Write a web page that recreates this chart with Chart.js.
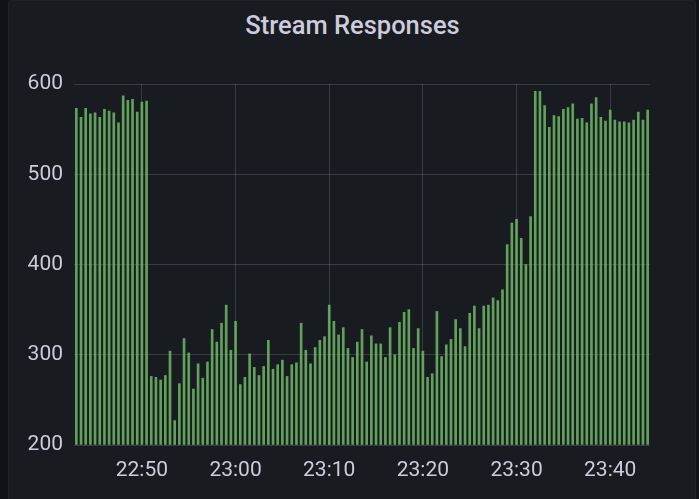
<!DOCTYPE html>
<html>
<head>
<meta charset="utf-8">
<script src="https://cdn.jsdelivr.net/npm/chart.js@4.4.1/dist/chart.umd.min.js"></script>
<style>
  html, body { margin: 0; padding: 0; width: 699px; height: 499px; background: #111217; overflow: hidden; }
  #panel { position: absolute; left: 8px; top: 0; width: 688px; height: 506px; background: #181b1f; border: 1px solid #202226; border-radius: 3px; box-sizing: border-box; }
  #wrap { position: absolute; left: 0; top: 0; width: 699px; height: 499px; }
  #title { position: absolute; left: 8px; width: 689px; top: 10px; text-align: center; font-family: Roboto, sans-serif; font-weight: 500; font-size: 25.5px; line-height: normal; color: #ccccdc; white-space: nowrap; }
</style>
</head>
<body>
<div id="panel"></div>
<div id="title"></div>
<div id="wrap"><canvas id="c" width="699" height="499"></canvas></div>
<script>
// ---- data ----
const chartTitle = 'Stream Responses';
const startTime = '22:43:00';
const stepSeconds = 30;
const responses = [
  573, 563, 573, 567, 568, 563, 572, 570, 568, 557, 587, 582, 583, 569, 580, 581,
  276, 275, 272, 277, 304, 227, 268, 318, 302, 262, 290, 274, 292, 328, 314,
  335, 355, 305, 337, 267, 275, 301, 286, 277, 287, 316, 284, 289, 294, 276, 289, 291, 335, 305, 290, 308, 316, 320, 355, 337, 322,
  330, 307, 297, 314, 328, 292, 321, 312, 312, 297, 330, 300, 336, 347, 350, 307, 329, 304, 275, 279, 348, 298, 311, 317, 339, 329,
  309, 346, 354, 329, 354, 355, 363, 360, 372, 422, 446, 450, 429, 400, 453, 592,
  592, 576, 552, 565, 564, 572, 574, 578, 561, 562, 557, 578, 585, 563, 559, 571, 560, 558, 558, 557, 560, 569, 560, 571
];
const yTicks = [200, 300, 400, 500, 600];
const xTickLabels = ['22:50', '23:00', '23:10', '23:20', '23:30', '23:40'];

document.getElementById('title').textContent = chartTitle;

// timestamps (categories)
function pad(n) { return String(n).padStart(2, '0'); }
const [h0, m0, s0] = startTime.split(':').map(Number);
const times = responses.map((_, i) => {
  const t = h0 * 3600 + m0 * 60 + s0 + i * stepSeconds;
  return pad(Math.floor(t / 3600) % 24) + ':' + pad(Math.floor(t / 60) % 60) + ':' + pad(t % 60);
});

const textColor = '#ccccdc';
const gridColor = 'rgba(204,204,220,0.18)';

new Chart(document.getElementById('c'), {
  type: 'bar',
  data: {
    labels: times,
    datasets: [{
      label: chartTitle,
      data: responses,
      backgroundColor: 'rgba(115,191,105,0.82)',
      borderWidth: 0,
      barThickness: 2,
      base: yTicks[0]
    }]
  },
  options: {
    responsive: false,
    animation: false,
    layout: { padding: { left: 0, right: 49, top: 84, bottom: 0 } },
    plugins: {
      legend: { display: false },
      tooltip: { enabled: false },
      title: { display: false }
    },
    scales: {
      x: {
        type: 'category',
        offset: true,
        grid: { offset: false, color: gridColor, drawTicks: false, lineWidth: 1 },
        border: { display: false },
        ticks: {
          autoSkip: false,
          maxRotation: 0,
          padding: 13,
          color: textColor,
          font: { family: 'Roboto', size: 21 },
          callback: function (val) {
            const full = this.getLabelForValue(val);
            const lbl = full.slice(0, 5);
            return (full.endsWith(':00') && xTickLabels.includes(lbl)) ? lbl : null;
          }
        },
        afterFit: (s) => { s.height = 54; }
      },
      y: {
        min: yTicks[0],
        max: yTicks[yTicks.length - 1],
        grid: { color: gridColor, drawTicks: false },
        border: { display: false },
        afterBuildTicks: (s) => { s.ticks = yTicks.map(v => ({ value: v })); },
        ticks: {
          padding: 11,
          color: textColor,
          font: { family: 'Roboto', size: 21 }
        },
        afterFit: (s) => { s.width = 74; }
      }
    }
  }
});
</script>
</body>
</html>
